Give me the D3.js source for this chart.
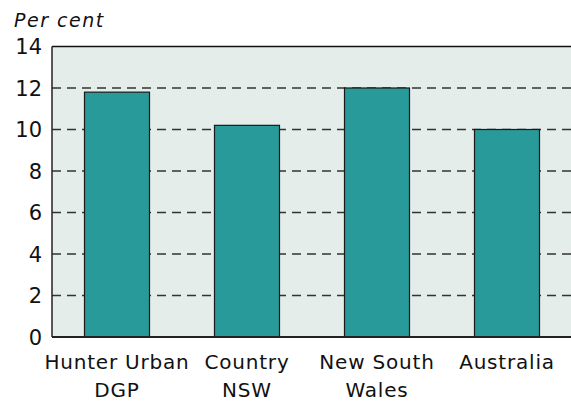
<!DOCTYPE html>
<html>
<head>
<meta charset="utf-8">
<script src="https://cdn.jsdelivr.net/npm/d3@7"></script>
<style>
  body { margin: 0; background: #fff; }
  text { font-family: "DejaVu Sans", sans-serif; fill: #111; }
</style>
</head>
<body>
<svg id="chart"></svg>
<script>
const categories = [["Hunter Urban", "DGP"], ["Country", "NSW"], ["New South", "Wales"], ["Australia"]];
const values = [11.8, 10.2, 12.0, 10.0];
const yTicks = [0, 2, 4, 6, 8, 10, 12, 14];

const w = 571, h = 403;
let svg = d3.select('#chart').attr('width', w).attr('height', h);

let margin = {top: 46.5, right: -1, bottom: 66, left: 52};
let x = d3.scaleBand()
    .domain(d3.range(values.length))
    .range([margin.left, w - margin.right])
    .paddingInner(0.5)
    .paddingOuter(0.25);
let y = d3.scaleLinear().domain([0, 14]).range([h - margin.bottom, margin.top]);

// plot background
svg.append('rect')
  .attr('x', margin.left).attr('y', y(14))
  .attr('width', w - margin.left - margin.right)
  .attr('height', y(0) - y(14))
  .attr('fill', '#e4edea');

// dashed gridlines
svg.append('g')
  .selectAll('line')
  .data(yTicks.filter(d => d > 0 && d < 14))
  .join('line')
  .attr('x1', margin.left).attr('x2', w)
  .attr('y1', d => y(d)).attr('y2', d => y(d))
  .attr('stroke', '#333')
  .attr('stroke-width', 1.3)
  .attr('stroke-dasharray', '9,6');

// bars
svg.append('g')
  .selectAll('rect')
  .data(values)
  .join('rect')
  .attr('x', (d, i) => x(i))
  .attr('y', d => y(d))
  .attr('width', x.bandwidth())
  .attr('height', d => y(0) - y(d))
  .attr('fill', '#299a9a')
  .attr('stroke', '#1a1a1a')
  .attr('stroke-width', 1.2);

// frame: top, left, bottom
svg.append('line')
  .attr('x1', margin.left).attr('x2', w)
  .attr('y1', y(14)).attr('y2', y(14))
  .attr('stroke', '#111').attr('stroke-width', 1.5);
svg.append('line')
  .attr('x1', margin.left).attr('x2', w)
  .attr('y1', y(0)).attr('y2', y(0))
  .attr('stroke', '#222').attr('stroke-width', 2);
svg.append('line')
  .attr('x1', margin.left).attr('x2', margin.left)
  .attr('y1', y(14)).attr('y2', y(0))
  .attr('stroke', '#222').attr('stroke-width', 1.5);

// y tick labels
svg.append('g')
  .selectAll('text')
  .data(yTicks)
  .join('text')
  .attr('x', 42)
  .attr('y', d => y(d))
  .attr('dy', '0.36em')
  .attr('text-anchor', 'end')
  .style('font-size', '21px')
  .text(d => d);

// unit label
svg.append('text')
  .attr('x', 14).attr('y', 27)
  .style('font-size', '19px')
  .style('font-style', 'italic')
  .style('letter-spacing', '1.5px')
  .text('Per cent');

// category labels
let cats = svg.append('g')
  .selectAll('text')
  .data(categories)
  .join('text')
  .attr('x', (d, i) => x(i) + x.bandwidth() / 2)
  .attr('y', 369)
  .attr('text-anchor', 'middle')
  .style('font-size', '20px')
  .style('letter-spacing', '0.8px');

cats.selectAll('tspan')
  .data(d => d)
  .join('tspan')
  .attr('x', function() { return d3.select(this.parentNode).attr('x'); })
  .attr('dy', (d, i) => i === 0 ? 0 : 28)
  .text(d => d);
</script>
</body>
</html>
